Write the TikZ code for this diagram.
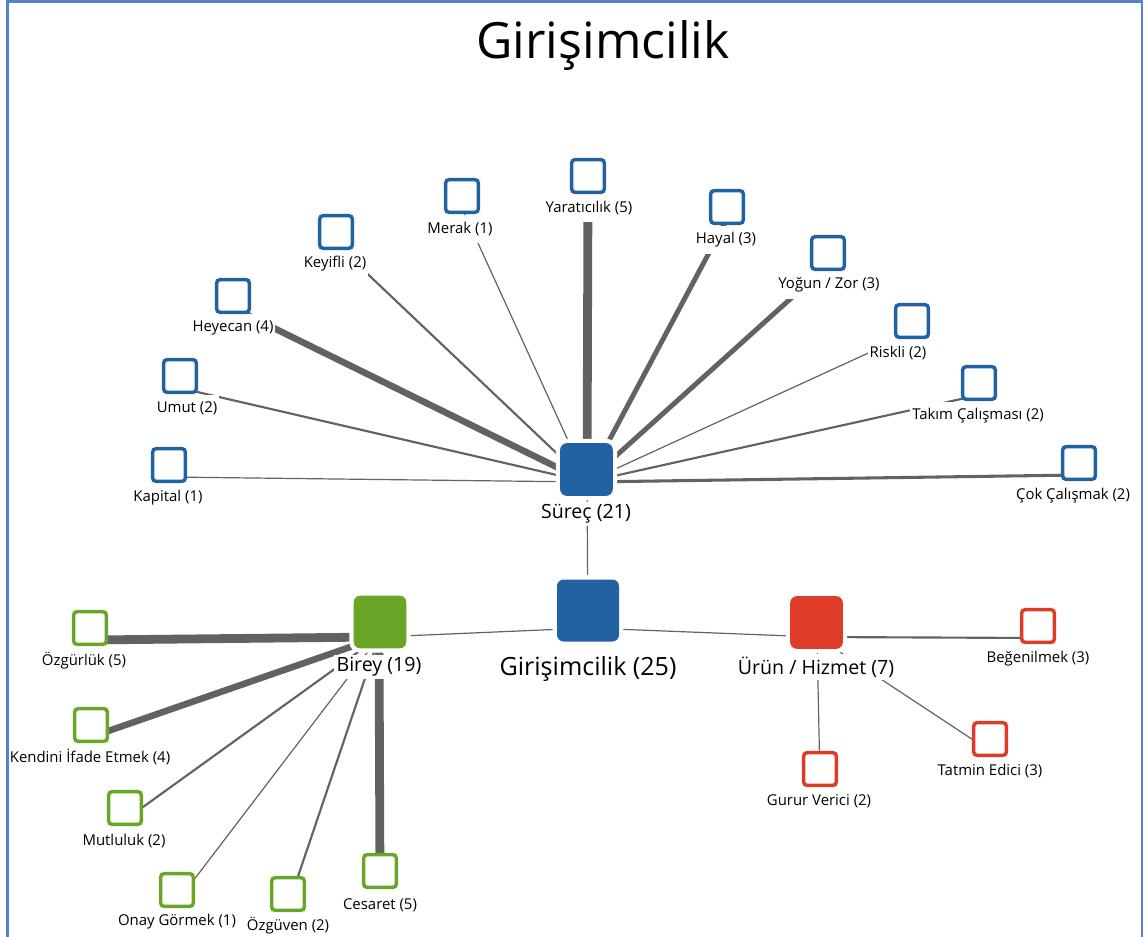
\documentclass[tikz,border=0pt]{standalone}
\usepackage{fontspec}
\setmainfont{Open Sans}
\definecolor{hubblue}{RGB}{34,98,163}
\definecolor{hubgreen}{RGB}{106,165,40}
\definecolor{hubred}{RGB}{222,60,38}
\definecolor{edgegray}{RGB}{98,98,98}
\definecolor{framebl}{RGB}{84,130,200}
\tikzset{
	hub/.style={rounded corners=5pt, minimum size=39.5pt, inner sep=0pt, fill=#1, preaction={draw=white, line width=6.5pt}},
	bighub/.style={hub=#1, minimum size=46.5pt},
	leaf/.style={draw=#1, fill=white, line width=2.6pt, rounded corners=2.5pt, minimum size=24.5pt, inner sep=0pt},
	lab/.style={fill=white, inner xsep=1.5pt, inner ysep=5pt, font=\fontsize{11.2}{13}\selectfont},
	hublab/.style={fill=white, inner sep=2pt, font=\fontsize{14.7}{17}\selectfont},
	edge/.style={draw=edgegray},
	w1/.style={edge, line width=0.9pt},
	w2/.style={edge, line width=1.6pt},
	w3/.style={edge, line width=2.3pt},
	w4/.style={edge, line width=3.7pt},
	w5/.style={edge, line width=4.9pt},
	w6/.style={edge, line width=6.6pt},
}
\begin{document}
\begin{tikzpicture}[x=0.75pt,y=0.75pt,yscale=-1,xscale=1]
	\useasboundingbox (0,0) rectangle (1148,937);
	
	% Title
	\node (title) at (603,46) {\fontsize{37.5}{42}\selectfont Girişimcilik};
	
	% vertex points (edges meet here)
	\coordinate (girV) at (588,628);
	\coordinate (surV) at (587,482);
	\coordinate (birV) at (379,637);
	\coordinate (urnV) at (817,637);
	
	\coordinate (kapV) at (169,477);
	\coordinate (umuV) at (180,388);
	\coordinate (heyV) at (233,308);
	\coordinate (keyV) at (336,244);
	\coordinate (merV) at (462,208);
	\coordinate (yarV) at (588,188);
	\coordinate (hayV) at (727,219);
	\coordinate (yogV) at (828,265);
	\coordinate (risV) at (912,333);
	\coordinate (takV) at (979,395);
	\coordinate (cokV) at (1079,475);
	
	\coordinate (ozgV) at (90,640);
	\coordinate (kenV) at (91,737);
	\coordinate (mutV) at (125,820);
	\coordinate (onaV) at (177,902);
	\coordinate (ozvV) at (288,906);
	\coordinate (cesV) at (380,883);
	
	\coordinate (begV) at (1038,638);
	\coordinate (tatV) at (990,751);
	\coordinate (gurV) at (820,781);
	
	% Edges
	\draw [w1] (girV) -- (surV);
	\draw [w1] (girV) -- (birV);
	\draw [w1] (girV) -- (urnV);
	\foreach \v/\w in {kap/w1, umu/w2, hey/w5, key/w2, mer/w1, yar/w6, hay/w4, yog/w4, ris/w1, tak/w2, cok/w3}
		\draw [\w] (surV) -- (\v V);
	\foreach \v/\w in {ozg/w6, ken/w5, mut/w2, ona/w1, ozv/w2, ces/w6}
		\draw [\w] (birV) -- (\v V);
	\foreach \v/\w in {beg/w2, tat/w1, gur/w1}
		\draw [\w] (urnV) -- (\v V);
	
	% Hubs
	\node [bighub=hubblue] (gir) at (588,610.5) {};
	\node [hub=hubblue] (sur) at (586.5,469.5) {};
	\node [hub=hubgreen] (bir) at (380,622) {};
	\node [hub=hubred] (urn) at (816.5,622.5) {};
	\node [hublab, font=\fontsize{18.8}{21}\selectfont] (girL) at (588,669) {Girişimcilik (25)};
	\node [hublab] (surL) at (586,514) {Süreç (21)};
	\node [hublab] (birL) at (379,667) {Birey (19)};
	\node [hublab] (urnL) at (816,667) {Ürün / Hizmet (7)};
	
	% Süreç leaves
	\node [lab] (kapL) at (168,498) {Kapital (1)};
	\node [lab] (umuL) at (187,408) {Umut (2)};
	\node [lab] (heyL) at (233,328) {Heyecan (4)};
	\node [lab] (keyL) at (335,264) {Keyifli (2)};
	\node [lab] (merL) at (460,229) {Merak (1)};
	\node [lab] (yarL) at (589,208) {Yaratıcılık (5)};
	\node [lab] (hayL) at (726,240) {Hayal (3)};
	\node [lab] (yogL) at (829,285) {Yoğun / Zor (3)};
	\node [lab] (risL) at (898,353) {Riskli (2)};
	\node [lab] (takL) at (978,416) {Takım Çalışması (2)};
	\node [lab] (cokL) at (1073,496) {Çok Çalışmak (2)};
	\node [leaf=hubblue] (kap) at (169,465) {};
	\node [leaf=hubblue] (umu) at (180,376) {};
	\node [leaf=hubblue] (hey) at (233,296) {};
	\node [leaf=hubblue] (key) at (336,232) {};
	\node [leaf=hubblue] (mer) at (462,196) {};
	\node [leaf=hubblue] (yar) at (588,176) {};
	\node [leaf=hubblue] (hay) at (727,207) {};
	\node [leaf=hubblue] (yog) at (828,253) {};
	\node [leaf=hubblue] (ris) at (912,321) {};
	\node [leaf=hubblue] (tak) at (979,383) {};
	\node [leaf=hubblue] (cok) at (1079,463) {};
	
	% Birey leaves
	\node [lab] (ozgL) at (84,661) {Özgürlük (5)};
	\node [lab] (kenL) at (90,757) {Kendini İfade Etmek (4)};
	\node [lab] (mutL) at (124,841) {Mutluluk (2)};
	\node [lab] (onaL) at (177,922) {Onay Görmek (1)};
	\node [lab] (ozvL) at (288,926) {Özgüven (2)};
	\node [lab] (cesL) at (380,905) {Cesaret (5)};
	\node [leaf=hubgreen] (ozg) at (90,628) {};
	\node [leaf=hubgreen] (ken) at (91,725) {};
	\node [leaf=hubgreen] (mut) at (125,808) {};
	\node [leaf=hubgreen] (ona) at (177,890) {};
	\node [leaf=hubgreen] (ozv) at (288,894) {};
	\node [leaf=hubgreen] (ces) at (380,871) {};
	
	% Ürün / Hizmet leaves
	\node [lab] (begL) at (1038,659) {Beğenilmek (3)};
	\node [lab] (tatL) at (990,771) {Tatmin Edici (3)};
	\node [lab] (gurL) at (819,801) {Gurur Verici (2)};
	\node [leaf=hubred] (beg) at (1038,626) {};
	\node [leaf=hubred] (tat) at (990,739) {};
	\node [leaf=hubred] (gur) at (820,769) {};
	
	%frame, open at the bottom
	\draw [framebl, line width=2.2pt] (7.5,937) -- (7.5,1.5) -- (1142,1.5) -- (1142,937);
	
\end{tikzpicture}
\end{document}
